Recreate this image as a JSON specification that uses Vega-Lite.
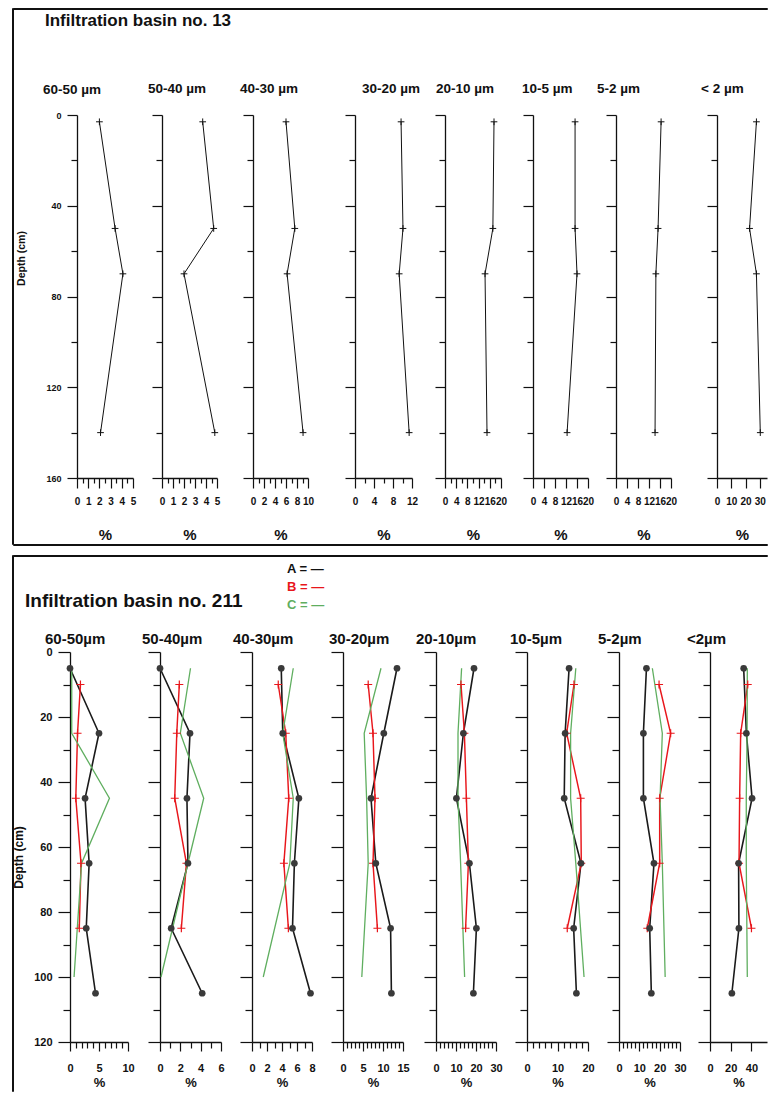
{
  "$schema": "https://vega.github.io/schema/vega-lite/v6.json",
  "padding": {"left": 11, "top": 7, "right": 0, "bottom": 0},
  "datasets": {
    "top": [
      {"frac": "60-50", "depth": 3, "value": 2.0}, {"frac": "60-50", "depth": 50, "value": 3.4}, {"frac": "60-50", "depth": 70, "value": 4.1}, {"frac": "60-50", "depth": 140, "value": 2.1},
      {"frac": "50-40", "depth": 3, "value": 3.7}, {"frac": "50-40", "depth": 50, "value": 4.7}, {"frac": "50-40", "depth": 70, "value": 2.0}, {"frac": "50-40", "depth": 140, "value": 4.8},
      {"frac": "40-30", "depth": 3, "value": 6.0}, {"frac": "40-30", "depth": 50, "value": 7.6}, {"frac": "40-30", "depth": 70, "value": 6.2}, {"frac": "40-30", "depth": 140, "value": 9.1},
      {"frac": "30-20", "depth": 3, "value": 9.7}, {"frac": "30-20", "depth": 50, "value": 10.1}, {"frac": "30-20", "depth": 70, "value": 9.3}, {"frac": "30-20", "depth": 140, "value": 11.4},
      {"frac": "20-10", "depth": 3, "value": 17.5}, {"frac": "20-10", "depth": 50, "value": 17.1}, {"frac": "20-10", "depth": 70, "value": 14.3}, {"frac": "20-10", "depth": 140, "value": 15.0},
      {"frac": "10-5", "depth": 3, "value": 15.3}, {"frac": "10-5", "depth": 50, "value": 15.3}, {"frac": "10-5", "depth": 70, "value": 16.0}, {"frac": "10-5", "depth": 140, "value": 12.4},
      {"frac": "5-2", "depth": 3, "value": 16.4}, {"frac": "5-2", "depth": 50, "value": 15.3}, {"frac": "5-2", "depth": 70, "value": 14.5}, {"frac": "5-2", "depth": 140, "value": 14.2},
      {"frac": "<2", "depth": 3, "value": 27.6}, {"frac": "<2", "depth": 50, "value": 22.8}, {"frac": "<2", "depth": 70, "value": 27.6}, {"frac": "<2", "depth": 140, "value": 30.3}
    ],
    "bottom": [
      {"frac": "60-50", "series": "A", "depth": 5, "value": 0}, {"frac": "60-50", "series": "A", "depth": 25, "value": 5.0}, {"frac": "60-50", "series": "A", "depth": 45, "value": 2.6}, {"frac": "60-50", "series": "A", "depth": 65, "value": 3.3}, {"frac": "60-50", "series": "A", "depth": 85, "value": 2.8}, {"frac": "60-50", "series": "A", "depth": 105, "value": 4.4},
      {"frac": "60-50", "series": "B", "depth": 10, "value": 1.8}, {"frac": "60-50", "series": "B", "depth": 25, "value": 1.3}, {"frac": "60-50", "series": "B", "depth": 45, "value": 1.0}, {"frac": "60-50", "series": "B", "depth": 65, "value": 1.9}, {"frac": "60-50", "series": "B", "depth": 85, "value": 1.6},
      {"frac": "60-50", "series": "C", "depth": 5, "value": 0.3}, {"frac": "60-50", "series": "C", "depth": 25, "value": 0.3}, {"frac": "60-50", "series": "C", "depth": 45, "value": 6.8}, {"frac": "60-50", "series": "C", "depth": 65, "value": 2.0}, {"frac": "60-50", "series": "C", "depth": 100, "value": 0.7},
      {"frac": "50-40", "series": "A", "depth": 5, "value": 0}, {"frac": "50-40", "series": "A", "depth": 25, "value": 2.95}, {"frac": "50-40", "series": "A", "depth": 45, "value": 2.65}, {"frac": "50-40", "series": "A", "depth": 65, "value": 2.75}, {"frac": "50-40", "series": "A", "depth": 85, "value": 1.1}, {"frac": "50-40", "series": "A", "depth": 105, "value": 4.15},
      {"frac": "50-40", "series": "B", "depth": 10, "value": 1.9}, {"frac": "50-40", "series": "B", "depth": 25, "value": 1.65}, {"frac": "50-40", "series": "B", "depth": 45, "value": 1.45}, {"frac": "50-40", "series": "B", "depth": 65, "value": 2.6}, {"frac": "50-40", "series": "B", "depth": 85, "value": 2.1},
      {"frac": "50-40", "series": "C", "depth": 5, "value": 3.0}, {"frac": "50-40", "series": "C", "depth": 25, "value": 2.0}, {"frac": "50-40", "series": "C", "depth": 45, "value": 4.3}, {"frac": "50-40", "series": "C", "depth": 65, "value": 2.75}, {"frac": "50-40", "series": "C", "depth": 100, "value": 0.1},
      {"frac": "40-30", "series": "A", "depth": 5, "value": 3.9}, {"frac": "40-30", "series": "A", "depth": 25, "value": 4.1}, {"frac": "40-30", "series": "A", "depth": 45, "value": 6.25}, {"frac": "40-30", "series": "A", "depth": 65, "value": 5.65}, {"frac": "40-30", "series": "A", "depth": 85, "value": 5.4}, {"frac": "40-30", "series": "A", "depth": 105, "value": 7.8},
      {"frac": "40-30", "series": "B", "depth": 10, "value": 3.5}, {"frac": "40-30", "series": "B", "depth": 25, "value": 4.5}, {"frac": "40-30", "series": "B", "depth": 45, "value": 4.9}, {"frac": "40-30", "series": "B", "depth": 65, "value": 4.25}, {"frac": "40-30", "series": "B", "depth": 85, "value": 4.85},
      {"frac": "40-30", "series": "C", "depth": 5, "value": 5.5}, {"frac": "40-30", "series": "C", "depth": 25, "value": 4.1}, {"frac": "40-30", "series": "C", "depth": 45, "value": 5.5}, {"frac": "40-30", "series": "C", "depth": 65, "value": 5.05}, {"frac": "40-30", "series": "C", "depth": 100, "value": 1.5},
      {"frac": "30-20", "series": "A", "depth": 5, "value": 13.5}, {"frac": "30-20", "series": "A", "depth": 25, "value": 10.2}, {"frac": "30-20", "series": "A", "depth": 45, "value": 7.0}, {"frac": "30-20", "series": "A", "depth": 65, "value": 8.2}, {"frac": "30-20", "series": "A", "depth": 85, "value": 11.9}, {"frac": "30-20", "series": "A", "depth": 105, "value": 12.1},
      {"frac": "30-20", "series": "B", "depth": 10, "value": 6.3}, {"frac": "30-20", "series": "B", "depth": 25, "value": 7.5}, {"frac": "30-20", "series": "B", "depth": 45, "value": 8.0}, {"frac": "30-20", "series": "B", "depth": 65, "value": 7.5}, {"frac": "30-20", "series": "B", "depth": 85, "value": 8.6},
      {"frac": "30-20", "series": "C", "depth": 5, "value": 9.5}, {"frac": "30-20", "series": "C", "depth": 25, "value": 5.3}, {"frac": "30-20", "series": "C", "depth": 45, "value": 5.9}, {"frac": "30-20", "series": "C", "depth": 65, "value": 6.3}, {"frac": "30-20", "series": "C", "depth": 100, "value": 4.7},
      {"frac": "20-10", "series": "A", "depth": 5, "value": 19.0}, {"frac": "20-10", "series": "A", "depth": 25, "value": 13.7}, {"frac": "20-10", "series": "A", "depth": 45, "value": 10.2}, {"frac": "20-10", "series": "A", "depth": 65, "value": 16.7}, {"frac": "20-10", "series": "A", "depth": 85, "value": 20.2}, {"frac": "20-10", "series": "A", "depth": 105, "value": 18.7},
      {"frac": "20-10", "series": "B", "depth": 10, "value": 12.5}, {"frac": "20-10", "series": "B", "depth": 25, "value": 14.2}, {"frac": "20-10", "series": "B", "depth": 45, "value": 15.2}, {"frac": "20-10", "series": "B", "depth": 65, "value": 16.2}, {"frac": "20-10", "series": "B", "depth": 85, "value": 14.8},
      {"frac": "20-10", "series": "C", "depth": 5, "value": 12.8}, {"frac": "20-10", "series": "C", "depth": 25, "value": 11.0}, {"frac": "20-10", "series": "C", "depth": 45, "value": 11.0}, {"frac": "20-10", "series": "C", "depth": 65, "value": 12.3}, {"frac": "20-10", "series": "C", "depth": 100, "value": 14.3},
      {"frac": "10-5", "series": "A", "depth": 5, "value": 13.8}, {"frac": "10-5", "series": "A", "depth": 25, "value": 12.5}, {"frac": "10-5", "series": "A", "depth": 45, "value": 12.2}, {"frac": "10-5", "series": "A", "depth": 65, "value": 17.7}, {"frac": "10-5", "series": "A", "depth": 85, "value": 15.3}, {"frac": "10-5", "series": "A", "depth": 105, "value": 16.2},
      {"frac": "10-5", "series": "B", "depth": 10, "value": 15.4}, {"frac": "10-5", "series": "B", "depth": 25, "value": 13.0}, {"frac": "10-5", "series": "B", "depth": 45, "value": 17.6}, {"frac": "10-5", "series": "B", "depth": 65, "value": 17.8}, {"frac": "10-5", "series": "B", "depth": 85, "value": 13.2},
      {"frac": "10-5", "series": "C", "depth": 5, "value": 16.0}, {"frac": "10-5", "series": "C", "depth": 25, "value": 14.3}, {"frac": "10-5", "series": "C", "depth": 45, "value": 14.3}, {"frac": "10-5", "series": "C", "depth": 65, "value": 16.0}, {"frac": "10-5", "series": "C", "depth": 100, "value": 18.7},
      {"frac": "5-2", "series": "A", "depth": 5, "value": 13.5}, {"frac": "5-2", "series": "A", "depth": 25, "value": 12.0}, {"frac": "5-2", "series": "A", "depth": 45, "value": 12.0}, {"frac": "5-2", "series": "A", "depth": 65, "value": 17.2}, {"frac": "5-2", "series": "A", "depth": 85, "value": 15.1}, {"frac": "5-2", "series": "A", "depth": 105, "value": 15.9},
      {"frac": "5-2", "series": "B", "depth": 10, "value": 19.7}, {"frac": "5-2", "series": "B", "depth": 25, "value": 25.4}, {"frac": "5-2", "series": "B", "depth": 45, "value": 20.0}, {"frac": "5-2", "series": "B", "depth": 65, "value": 20.0}, {"frac": "5-2", "series": "B", "depth": 85, "value": 13.9},
      {"frac": "5-2", "series": "C", "depth": 5, "value": 16.4}, {"frac": "5-2", "series": "C", "depth": 25, "value": 21.3}, {"frac": "5-2", "series": "C", "depth": 45, "value": 20.2}, {"frac": "5-2", "series": "C", "depth": 65, "value": 21.3}, {"frac": "5-2", "series": "C", "depth": 100, "value": 22.7},
      {"frac": "<2", "series": "A", "depth": 5, "value": 32.5}, {"frac": "<2", "series": "A", "depth": 25, "value": 35.1}, {"frac": "<2", "series": "A", "depth": 45, "value": 40.6}, {"frac": "<2", "series": "A", "depth": 65, "value": 27.6}, {"frac": "<2", "series": "A", "depth": 85, "value": 27.9}, {"frac": "<2", "series": "A", "depth": 105, "value": 21.1},
      {"frac": "<2", "series": "B", "depth": 10, "value": 36.4}, {"frac": "<2", "series": "B", "depth": 25, "value": 29.6}, {"frac": "<2", "series": "B", "depth": 45, "value": 28.6}, {"frac": "<2", "series": "B", "depth": 65, "value": 28.0}, {"frac": "<2", "series": "B", "depth": 85, "value": 40.0},
      {"frac": "<2", "series": "C", "depth": 5, "value": 36.0}, {"frac": "<2", "series": "C", "depth": 25, "value": 35.8}, {"frac": "<2", "series": "C", "depth": 45, "value": 35.0}, {"frac": "<2", "series": "C", "depth": 65, "value": 35.0}, {"frac": "<2", "series": "C", "depth": 100, "value": 36.0}
    ]
  },
  "vconcat": [
    {
      "spacing": 0,
      "bounds": "flush",
      "hconcat": [
        {"width": 1, "height": 536, "data": {"values": []}, "mark": {"type": "rule"}, "encoding": {}, "view": {"stroke": "#111", "strokeWidth": 1}},
        {
          "spacing": 1,
          "vconcat": [
            {"width": 754, "height": 1, "data": {"values": []}, "mark": {"type": "rule"}, "encoding": {}, "view": {"stroke": "#111", "strokeWidth": 1}},
            {
              "title": {"text": "Infiltration basin no. 13", "anchor": "start", "frame": "group", "dx": 32, "fontSize": 17, "offset": 52},
              "spacing": 0,
              "bounds": "flush",
              "hconcat": [
                {"width": 64, "height": 363, "data": {"values": []}, "mark": {"type": "rule"}, "encoding": {}},
                {
                  "width": 85, "height": 363, "data": {"name": "top"},
                  "transform": [{"filter": "datum.frac === '60-50'"}],
                  "title": {"text": "60-50 µm", "anchor": "start", "frame": "group", "dx": -34, "offset": 15, "fontSize": 13.5},
                  "encoding": {
                    "x": {"field": "value", "type": "quantitative", "scale": {"domain": [0, 5], "range": [0, 56], "nice": false, "zero": false},
                      "axis": {"values": [0, 0.5, 1, 1.5, 2, 2.5, 3, 3.5, 4, 4.5, 5], "labelExpr": "datum.value % 1 === 0 ? '' + datum.value : ''", "tickSize": {"condition": {"test": "datum.value % 1 === 0", "value": 10}, "value": 5}, "labelPadding": 8, "labelFontSize": 10, "title": "%", "titleFontSize": 15, "titlePadding": 21}},
                    "y": {"field": "depth", "type": "quantitative", "scale": {"domain": [0, 160], "reverse": true, "nice": false},
                      "axis": {"values": [0, 20, 40, 60, 80, 100, 120, 140, 160], "labelExpr": "datum.value % 40 === 0 ? datum.label : ''", "tickSize": {"condition": {"test": "datum.value % 40 === 0", "value": 10}, "value": 6}, "labelFontSize": 9, "labelPadding": 6, "title": "Depth (cm)", "titleFontSize": 10.5, "titlePadding": 19, "titleY": 143}}
                  },
                  "layer": [
                    {"mark": {"type": "line", "color": "#111", "strokeWidth": 1}, "encoding": {"order": {"field": "depth", "type": "quantitative"}}},
                    {"mark": {"type": "point", "shape": "M-1,0H1M0,-1V1", "filled": false, "color": "#111", "strokeWidth": 1, "size": 45, "opacity": 1}}
                  ]
                },
                {
                  "width": 91, "height": 363, "data": {"name": "top"},
                  "transform": [{"filter": "datum.frac === '50-40'"}],
                  "title": {"text": "50-40 µm", "anchor": "start", "frame": "group", "dx": -14, "offset": 19, "fontSize": 13.5},
                  "encoding": {
                    "x": {"field": "value", "type": "quantitative", "scale": {"domain": [0, 5], "range": [0, 55], "nice": false, "zero": false},
                      "axis": {"values": [0, 0.5, 1, 1.5, 2, 2.5, 3, 3.5, 4, 4.5, 5], "labelExpr": "datum.value % 1 === 0 ? '' + datum.value : ''", "tickSize": {"condition": {"test": "datum.value % 1 === 0", "value": 10}, "value": 5}, "labelPadding": 8, "labelFontSize": 10, "title": "%", "titleFontSize": 15, "titlePadding": 21}},
                    "y": {"field": "depth", "type": "quantitative", "scale": {"domain": [0, 160], "reverse": true, "nice": false},
                      "axis": {"values": [0, 20, 40, 60, 80, 100, 120, 140, 160], "labels": false, "tickSize": {"condition": {"test": "datum.value % 40 === 0", "value": 10}, "value": 6}, "title": null}}
                  },
                  "layer": [
                    {"mark": {"type": "line", "color": "#111", "strokeWidth": 1}, "encoding": {"order": {"field": "depth", "type": "quantitative"}}},
                    {"mark": {"type": "point", "shape": "M-1,0H1M0,-1V1", "filled": false, "color": "#111", "strokeWidth": 1, "size": 45, "opacity": 1}}
                  ]
                },
                {
                  "width": 102, "height": 363, "data": {"name": "top"},
                  "transform": [{"filter": "datum.frac === '40-30'"}],
                  "title": {"text": "40-30 µm", "anchor": "start", "frame": "group", "dx": -13, "offset": 19, "fontSize": 13.5},
                  "encoding": {
                    "x": {"field": "value", "type": "quantitative", "scale": {"domain": [0, 10], "range": [0, 55], "nice": false, "zero": false},
                      "axis": {"values": [0, 1, 2, 3, 4, 5, 6, 7, 8, 9, 10], "labelExpr": "datum.value % 2 === 0 ? datum.label : ''", "tickSize": {"condition": {"test": "datum.value % 2 === 0", "value": 10}, "value": 5}, "labelPadding": 8, "labelFontSize": 10, "title": "%", "titleFontSize": 15, "titlePadding": 21}},
                    "y": {"field": "depth", "type": "quantitative", "scale": {"domain": [0, 160], "reverse": true, "nice": false},
                      "axis": {"values": [0, 20, 40, 60, 80, 100, 120, 140, 160], "labels": false, "tickSize": {"condition": {"test": "datum.value % 40 === 0", "value": 10}, "value": 6}, "title": null}}
                  },
                  "layer": [
                    {"mark": {"type": "line", "color": "#111", "strokeWidth": 1}, "encoding": {"order": {"field": "depth", "type": "quantitative"}}},
                    {"mark": {"type": "point", "shape": "M-1,0H1M0,-1V1", "filled": false, "color": "#111", "strokeWidth": 1, "size": 45, "opacity": 1}}
                  ]
                },
                {
                  "width": 90, "height": 363, "data": {"name": "top"},
                  "transform": [{"filter": "datum.frac === '30-20'"}],
                  "title": {"text": "30-20 µm", "anchor": "start", "frame": "group", "dx": 7, "offset": 19, "fontSize": 13.5},
                  "encoding": {
                    "x": {"field": "value", "type": "quantitative", "scale": {"domain": [0, 12], "range": [0, 57], "nice": false, "zero": false},
                      "axis": {"values": [0, 2, 4, 6, 8, 10, 12], "labelExpr": "datum.value % 4 === 0 ? datum.label : ''", "tickSize": {"condition": {"test": "datum.value % 4 === 0", "value": 10}, "value": 5}, "labelPadding": 8, "labelFontSize": 10, "title": "%", "titleFontSize": 15, "titlePadding": 21}},
                    "y": {"field": "depth", "type": "quantitative", "scale": {"domain": [0, 160], "reverse": true, "nice": false},
                      "axis": {"values": [0, 20, 40, 60, 80, 100, 120, 140, 160], "labels": false, "tickSize": {"condition": {"test": "datum.value % 40 === 0", "value": 10}, "value": 6}, "title": null}}
                  },
                  "layer": [
                    {"mark": {"type": "line", "color": "#111", "strokeWidth": 1}, "encoding": {"order": {"field": "depth", "type": "quantitative"}}},
                    {"mark": {"type": "point", "shape": "M-1,0H1M0,-1V1", "filled": false, "color": "#111", "strokeWidth": 1, "size": 45, "opacity": 1}}
                  ]
                },
                {
                  "width": 88, "height": 363, "data": {"name": "top"},
                  "transform": [{"filter": "datum.frac === '20-10'"}],
                  "title": {"text": "20-10 µm", "anchor": "start", "frame": "group", "dx": -9, "offset": 19, "fontSize": 13.5},
                  "encoding": {
                    "x": {"field": "value", "type": "quantitative", "scale": {"domain": [0, 20], "range": [0, 56], "nice": false, "zero": false},
                      "axis": {"values": [0, 2, 4, 6, 8, 10, 12, 14, 16, 18, 20], "labelExpr": "datum.value % 4 === 0 ? datum.label : ''", "tickSize": {"condition": {"test": "datum.value % 4 === 0", "value": 10}, "value": 5}, "labelPadding": 8, "labelFontSize": 10, "title": "%", "titleFontSize": 15, "titlePadding": 21}},
                    "y": {"field": "depth", "type": "quantitative", "scale": {"domain": [0, 160], "reverse": true, "nice": false},
                      "axis": {"values": [0, 20, 40, 60, 80, 100, 120, 140, 160], "labels": false, "tickSize": {"condition": {"test": "datum.value % 40 === 0", "value": 10}, "value": 6}, "title": null}}
                  },
                  "layer": [
                    {"mark": {"type": "line", "color": "#111", "strokeWidth": 1}, "encoding": {"order": {"field": "depth", "type": "quantitative"}}},
                    {"mark": {"type": "point", "shape": "M-1,0H1M0,-1V1", "filled": false, "color": "#111", "strokeWidth": 1, "size": 45, "opacity": 1}}
                  ]
                },
                {
                  "width": 83, "height": 363, "data": {"name": "top"},
                  "transform": [{"filter": "datum.frac === '10-5'"}],
                  "title": {"text": "10-5 µm", "anchor": "start", "frame": "group", "dx": -11, "offset": 19, "fontSize": 13.5},
                  "encoding": {
                    "x": {"field": "value", "type": "quantitative", "scale": {"domain": [0, 20], "range": [0, 55], "nice": false, "zero": false},
                      "axis": {"values": [0, 4, 8, 12, 16, 20], "tickSize": 10, "labelPadding": 8, "labelFontSize": 10, "title": "%", "titleFontSize": 15, "titlePadding": 21}},
                    "y": {"field": "depth", "type": "quantitative", "scale": {"domain": [0, 160], "reverse": true, "nice": false},
                      "axis": {"values": [0, 20, 40, 60, 80, 100, 120, 140, 160], "labels": false, "tickSize": {"condition": {"test": "datum.value % 40 === 0", "value": 10}, "value": 6}, "title": null}}
                  },
                  "layer": [
                    {"mark": {"type": "line", "color": "#111", "strokeWidth": 1}, "encoding": {"order": {"field": "depth", "type": "quantitative"}}},
                    {"mark": {"type": "point", "shape": "M-1,0H1M0,-1V1", "filled": false, "color": "#111", "strokeWidth": 1, "size": 45, "opacity": 1}}
                  ]
                },
                {
                  "width": 101, "height": 363, "data": {"name": "top"},
                  "transform": [{"filter": "datum.frac === '5-2'"}],
                  "title": {"text": "5-2 µm", "anchor": "start", "frame": "group", "dx": -19, "offset": 19, "fontSize": 13.5},
                  "encoding": {
                    "x": {"field": "value", "type": "quantitative", "scale": {"domain": [0, 20], "range": [0, 55], "nice": false, "zero": false},
                      "axis": {"values": [0, 4, 8, 12, 16, 20], "tickSize": 10, "labelPadding": 8, "labelFontSize": 10, "title": "%", "titleFontSize": 15, "titlePadding": 21}},
                    "y": {"field": "depth", "type": "quantitative", "scale": {"domain": [0, 160], "reverse": true, "nice": false},
                      "axis": {"values": [0, 20, 40, 60, 80, 100, 120, 140, 160], "labels": false, "tickSize": {"condition": {"test": "datum.value % 40 === 0", "value": 10}, "value": 6}, "title": null}}
                  },
                  "layer": [
                    {"mark": {"type": "line", "color": "#111", "strokeWidth": 1}, "encoding": {"order": {"field": "depth", "type": "quantitative"}}},
                    {"mark": {"type": "point", "shape": "M-1,0H1M0,-1V1", "filled": false, "color": "#111", "strokeWidth": 1, "size": 45, "opacity": 1}}
                  ]
                },
                {
                  "width": 50, "height": 363, "data": {"name": "top"},
                  "transform": [{"filter": "datum.frac === '<2'"}],
                  "title": {"text": "< 2 µm", "anchor": "start", "frame": "group", "dx": -16, "offset": 19, "fontSize": 13.5},
                  "encoding": {
                    "x": {"field": "value", "type": "quantitative", "scale": {"domain": [0, 35], "range": [0, 50], "nice": false, "zero": false},
                      "axis": {"values": [0, 10, 20, 30], "tickSize": 10, "labelPadding": 8, "labelFontSize": 10, "title": "%", "titleFontSize": 15, "titlePadding": 21}},
                    "y": {"field": "depth", "type": "quantitative", "scale": {"domain": [0, 160], "reverse": true, "nice": false},
                      "axis": {"values": [0, 20, 40, 60, 80, 100, 120, 140, 160], "labels": false, "tickSize": {"condition": {"test": "datum.value % 40 === 0", "value": 10}, "value": 6}, "title": null}}
                  },
                  "layer": [
                    {"mark": {"type": "line", "color": "#111", "strokeWidth": 1}, "encoding": {"order": {"field": "depth", "type": "quantitative"}}},
                    {"mark": {"type": "point", "shape": "M-1,0H1M0,-1V1", "filled": false, "color": "#111", "strokeWidth": 1, "size": 45, "opacity": 1}}
                  ]
                }
              ]
            },
            {"width": 754, "height": 1, "data": {"values": []}, "mark": {"type": "rule"}, "encoding": {}, "view": {"stroke": "#111", "strokeWidth": 1}}
          ]
        }
      ]
    },
    {
      "spacing": 0,
      "bounds": "flush",
      "hconcat": [
        {"width": 1, "height": 536, "data": {"values": []}, "mark": {"type": "rule"}, "encoding": {}, "view": {"stroke": "#111", "strokeWidth": 1}},
        {
          "spacing": 35,
          "vconcat": [
            {"width": 754, "height": 1, "data": {"values": []}, "mark": {"type": "rule"}, "encoding": {}, "view": {"stroke": "#111", "strokeWidth": 1}},
            {
              "title": {"text": "Infiltration basin no. 211", "anchor": "start", "frame": "group", "dx": 12, "fontSize": 19, "offset": 21},
              "spacing": 0,
              "bounds": "flush",
              "hconcat": [
                {"width": 57, "height": 390, "data": {"values": []}, "mark": {"type": "rule"}, "encoding": {}},
                {
                  "width": 90, "height": 390, "data": {"name": "bottom"},
                  "transform": [{"filter": "datum.frac === '60-50'"}],
                  "title": {"text": "60-50µm", "anchor": "start", "frame": "group", "dx": -25, "offset": -1, "fontSize": 15},
                  "encoding": {
                    "x": {"field": "value", "type": "quantitative", "scale": {"domain": [0, 10], "range": [0, 58], "nice": false, "zero": false},
                      "axis": {"values": [0, 1, 2, 3, 4, 5, 6, 7, 8, 9, 10], "labelExpr": "datum.value % 5 === 0 ? datum.label : ''", "tickSize": {"condition": {"test": "datum.value % 5 === 0", "value": 9}, "value": 6}, "labelPadding": 11, "labelFontSize": 11, "title": "%", "titleFontSize": 13, "titlePadding": 3}},
                    "y": {"field": "depth", "type": "quantitative", "scale": {"domain": [0, 120], "reverse": true, "nice": false},
                      "axis": {"values": [0, 10, 20, 30, 40, 50, 60, 70, 80, 90, 100, 110, 120], "labelExpr": "datum.value % 20 === 0 ? datum.label : ''", "tickSize": {"condition": {"test": "datum.value % 20 === 0", "value": 12}, "value": 7}, "labelFontSize": 11, "labelPadding": 6, "title": "Depth (cm)", "titleFontSize": 12, "titlePadding": 8, "titleY": 205}}
                  },
                  "layer": [
                    {"mark": {"type": "line"}, "encoding": {"order": {"field": "depth", "type": "quantitative"},
                      "color": {"field": "series", "type": "nominal", "scale": {"domain": ["A", "B", "C"], "range": ["#1a1a1a", "#e8161b", "#5fae5f"]},
                        "legend": {"orient": "none", "legendX": 262, "legendY": 554, "title": null, "labelExpr": "datum.label + ' = —'", "symbolOpacity": 0, "symbolSize": 1, "symbolStrokeWidth": 0, "labelFont": "Liberation Sans", "labelFontSize": 13, "labelFontWeight": "bold", "labelOffset": 0, "rowPadding": 4,
                          "labelColor": {"expr": "datum.value === 'B' ? '#e8161b' : (datum.value === 'C' ? '#5fae5f' : '#111')"}}},
                      "strokeWidth": {"field": "series", "type": "nominal", "scale": {"domain": ["A", "B", "C"], "range": [1.6, 1.3, 1.1]}, "legend": null}}},
                    {"transform": [{"filter": "datum.series === 'B'"}], "mark": {"type": "point", "shape": "M-1,0H1M0,-1V1", "filled": false, "color": "#e8161b", "strokeWidth": 1.2, "size": 64, "opacity": 1}},
                    {"transform": [{"filter": "datum.series === 'A'"}], "mark": {"type": "point", "shape": "circle", "filled": true, "color": "#3a3a3a", "size": 45, "opacity": 1}}
                  ]
                },
                {
                  "width": 92, "height": 390, "data": {"name": "bottom"},
                  "transform": [{"filter": "datum.frac === '50-40'"}],
                  "title": {"text": "50-40µm", "anchor": "start", "frame": "group", "dx": -18, "offset": 4, "fontSize": 15},
                  "encoding": {
                    "x": {"field": "value", "type": "quantitative", "scale": {"domain": [0, 6], "range": [0, 61], "nice": false, "zero": false},
                      "axis": {"values": [0, 1, 2, 3, 4, 5, 6], "labelExpr": "datum.value % 2 === 0 ? datum.label : ''", "tickSize": {"condition": {"test": "datum.value % 2 === 0", "value": 9}, "value": 6}, "labelPadding": 11, "labelFontSize": 11, "title": "%", "titleFontSize": 13, "titlePadding": 3}},
                    "y": {"field": "depth", "type": "quantitative", "scale": {"domain": [0, 120], "reverse": true, "nice": false},
                      "axis": {"values": [0, 10, 20, 30, 40, 50, 60, 70, 80, 90, 100, 110, 120], "labels": false, "tickSize": {"condition": {"test": "datum.value % 20 === 0", "value": 12}, "value": 7}, "title": null}}
                  },
                  "layer": [
                    {"mark": {"type": "line"}, "encoding": {"order": {"field": "depth", "type": "quantitative"},
                      "color": {"field": "series", "type": "nominal", "scale": {"domain": ["A", "B", "C"], "range": ["#1a1a1a", "#e8161b", "#5fae5f"]}},
                      "strokeWidth": {"field": "series", "type": "nominal", "scale": {"domain": ["A", "B", "C"], "range": [1.6, 1.3, 1.1]}, "legend": null}}},
                    {"transform": [{"filter": "datum.series === 'B'"}], "mark": {"type": "point", "shape": "M-1,0H1M0,-1V1", "filled": false, "color": "#e8161b", "strokeWidth": 1.2, "size": 64, "opacity": 1}},
                    {"transform": [{"filter": "datum.series === 'A'"}], "mark": {"type": "point", "shape": "circle", "filled": true, "color": "#3a3a3a", "size": 45, "opacity": 1}}
                  ]
                },
                {
                  "width": 91, "height": 390, "data": {"name": "bottom"},
                  "transform": [{"filter": "datum.frac === '40-30'"}],
                  "title": {"text": "40-30µm", "anchor": "start", "frame": "group", "dx": -19, "offset": 4, "fontSize": 15},
                  "encoding": {
                    "x": {"field": "value", "type": "quantitative", "scale": {"domain": [0, 8], "range": [0, 60], "nice": false, "zero": false},
                      "axis": {"values": [0, 1, 2, 3, 4, 5, 6, 7, 8], "labelExpr": "datum.value % 2 === 0 ? datum.label : ''", "tickSize": {"condition": {"test": "datum.value % 2 === 0", "value": 9}, "value": 6}, "labelPadding": 11, "labelFontSize": 11, "title": "%", "titleFontSize": 13, "titlePadding": 3}},
                    "y": {"field": "depth", "type": "quantitative", "scale": {"domain": [0, 120], "reverse": true, "nice": false},
                      "axis": {"values": [0, 10, 20, 30, 40, 50, 60, 70, 80, 90, 100, 110, 120], "labels": false, "tickSize": {"condition": {"test": "datum.value % 20 === 0", "value": 12}, "value": 7}, "title": null}}
                  },
                  "layer": [
                    {"mark": {"type": "line"}, "encoding": {"order": {"field": "depth", "type": "quantitative"},
                      "color": {"field": "series", "type": "nominal", "scale": {"domain": ["A", "B", "C"], "range": ["#1a1a1a", "#e8161b", "#5fae5f"]}},
                      "strokeWidth": {"field": "series", "type": "nominal", "scale": {"domain": ["A", "B", "C"], "range": [1.6, 1.3, 1.1]}, "legend": null}}},
                    {"transform": [{"filter": "datum.series === 'B'"}], "mark": {"type": "point", "shape": "M-1,0H1M0,-1V1", "filled": false, "color": "#e8161b", "strokeWidth": 1.2, "size": 64, "opacity": 1}},
                    {"transform": [{"filter": "datum.series === 'A'"}], "mark": {"type": "point", "shape": "circle", "filled": true, "color": "#3a3a3a", "size": 45, "opacity": 1}}
                  ]
                },
                {
                  "width": 93, "height": 390, "data": {"name": "bottom"},
                  "transform": [{"filter": "datum.frac === '30-20'"}],
                  "title": {"text": "30-20µm", "anchor": "start", "frame": "group", "dx": -14, "offset": 4, "fontSize": 15},
                  "encoding": {
                    "x": {"field": "value", "type": "quantitative", "scale": {"domain": [0, 15], "range": [0, 60], "nice": false, "zero": false},
                      "axis": {"values": [0, 1, 2, 3, 4, 5, 6, 7, 8, 9, 10, 11, 12, 13, 14, 15], "labelExpr": "datum.value % 5 === 0 ? datum.label : ''", "tickSize": {"condition": {"test": "datum.value % 5 === 0", "value": 9}, "value": 6}, "labelPadding": 11, "labelFontSize": 11, "title": "%", "titleFontSize": 13, "titlePadding": 3}},
                    "y": {"field": "depth", "type": "quantitative", "scale": {"domain": [0, 120], "reverse": true, "nice": false},
                      "axis": {"values": [0, 10, 20, 30, 40, 50, 60, 70, 80, 90, 100, 110, 120], "labels": false, "tickSize": {"condition": {"test": "datum.value % 20 === 0", "value": 12}, "value": 7}, "title": null}}
                  },
                  "layer": [
                    {"mark": {"type": "line"}, "encoding": {"order": {"field": "depth", "type": "quantitative"},
                      "color": {"field": "series", "type": "nominal", "scale": {"domain": ["A", "B", "C"], "range": ["#1a1a1a", "#e8161b", "#5fae5f"]}},
                      "strokeWidth": {"field": "series", "type": "nominal", "scale": {"domain": ["A", "B", "C"], "range": [1.6, 1.3, 1.1]}, "legend": null}}},
                    {"transform": [{"filter": "datum.series === 'B'"}], "mark": {"type": "point", "shape": "M-1,0H1M0,-1V1", "filled": false, "color": "#e8161b", "strokeWidth": 1.2, "size": 64, "opacity": 1}},
                    {"transform": [{"filter": "datum.series === 'A'"}], "mark": {"type": "point", "shape": "circle", "filled": true, "color": "#3a3a3a", "size": 45, "opacity": 1}}
                  ]
                },
                {
                  "width": 91, "height": 390, "data": {"name": "bottom"},
                  "transform": [{"filter": "datum.frac === '20-10'"}],
                  "title": {"text": "20-10µm", "anchor": "start", "frame": "group", "dx": -20, "offset": 4, "fontSize": 15},
                  "encoding": {
                    "x": {"field": "value", "type": "quantitative", "scale": {"domain": [0, 30], "range": [0, 60], "nice": false, "zero": false},
                      "axis": {"values": [0, 2, 4, 6, 8, 10, 12, 14, 16, 18, 20, 22, 24, 26, 28, 30], "labelExpr": "datum.value % 10 === 0 ? datum.label : ''", "tickSize": {"condition": {"test": "datum.value % 10 === 0", "value": 9}, "value": 6}, "labelPadding": 11, "labelFontSize": 11, "title": "%", "titleFontSize": 13, "titlePadding": 3}},
                    "y": {"field": "depth", "type": "quantitative", "scale": {"domain": [0, 120], "reverse": true, "nice": false},
                      "axis": {"values": [0, 10, 20, 30, 40, 50, 60, 70, 80, 90, 100, 110, 120], "labels": false, "tickSize": {"condition": {"test": "datum.value % 20 === 0", "value": 12}, "value": 7}, "title": null}}
                  },
                  "layer": [
                    {"mark": {"type": "line"}, "encoding": {"order": {"field": "depth", "type": "quantitative"},
                      "color": {"field": "series", "type": "nominal", "scale": {"domain": ["A", "B", "C"], "range": ["#1a1a1a", "#e8161b", "#5fae5f"]}},
                      "strokeWidth": {"field": "series", "type": "nominal", "scale": {"domain": ["A", "B", "C"], "range": [1.6, 1.3, 1.1]}, "legend": null}}},
                    {"transform": [{"filter": "datum.series === 'B'"}], "mark": {"type": "point", "shape": "M-1,0H1M0,-1V1", "filled": false, "color": "#e8161b", "strokeWidth": 1.2, "size": 64, "opacity": 1}},
                    {"transform": [{"filter": "datum.series === 'A'"}], "mark": {"type": "point", "shape": "circle", "filled": true, "color": "#3a3a3a", "size": 45, "opacity": 1}}
                  ]
                },
                {
                  "width": 92, "height": 390, "data": {"name": "bottom"},
                  "transform": [{"filter": "datum.frac === '10-5'"}],
                  "title": {"text": "10-5µm", "anchor": "start", "frame": "group", "dx": -17, "offset": 4, "fontSize": 15},
                  "encoding": {
                    "x": {"field": "value", "type": "quantitative", "scale": {"domain": [0, 20], "range": [0, 61], "nice": false, "zero": false},
                      "axis": {"values": [0, 2, 4, 6, 8, 10, 12, 14, 16, 18, 20], "labelExpr": "datum.value % 10 === 0 ? datum.label : ''", "tickSize": {"condition": {"test": "datum.value % 10 === 0", "value": 9}, "value": 6}, "labelPadding": 11, "labelFontSize": 11, "title": "%", "titleFontSize": 13, "titlePadding": 3}},
                    "y": {"field": "depth", "type": "quantitative", "scale": {"domain": [0, 120], "reverse": true, "nice": false},
                      "axis": {"values": [0, 10, 20, 30, 40, 50, 60, 70, 80, 90, 100, 110, 120], "labels": false, "tickSize": {"condition": {"test": "datum.value % 20 === 0", "value": 12}, "value": 7}, "title": null}}
                  },
                  "layer": [
                    {"mark": {"type": "line"}, "encoding": {"order": {"field": "depth", "type": "quantitative"},
                      "color": {"field": "series", "type": "nominal", "scale": {"domain": ["A", "B", "C"], "range": ["#1a1a1a", "#e8161b", "#5fae5f"]}},
                      "strokeWidth": {"field": "series", "type": "nominal", "scale": {"domain": ["A", "B", "C"], "range": [1.6, 1.3, 1.1]}, "legend": null}}},
                    {"transform": [{"filter": "datum.series === 'B'"}], "mark": {"type": "point", "shape": "M-1,0H1M0,-1V1", "filled": false, "color": "#e8161b", "strokeWidth": 1.2, "size": 64, "opacity": 1}},
                    {"transform": [{"filter": "datum.series === 'A'"}], "mark": {"type": "point", "shape": "circle", "filled": true, "color": "#3a3a3a", "size": 45, "opacity": 1}}
                  ]
                },
                {
                  "width": 91, "height": 390, "data": {"name": "bottom"},
                  "transform": [{"filter": "datum.frac === '5-2'"}],
                  "title": {"text": "5-2µm", "anchor": "start", "frame": "group", "dx": -21, "offset": 4, "fontSize": 15},
                  "encoding": {
                    "x": {"field": "value", "type": "quantitative", "scale": {"domain": [0, 30], "range": [0, 61], "nice": false, "zero": false},
                      "axis": {"values": [0, 2, 4, 6, 8, 10, 12, 14, 16, 18, 20, 22, 24, 26, 28, 30], "labelExpr": "datum.value % 10 === 0 ? datum.label : ''", "tickSize": {"condition": {"test": "datum.value % 10 === 0", "value": 9}, "value": 6}, "labelPadding": 11, "labelFontSize": 11, "title": "%", "titleFontSize": 13, "titlePadding": 3}},
                    "y": {"field": "depth", "type": "quantitative", "scale": {"domain": [0, 120], "reverse": true, "nice": false},
                      "axis": {"values": [0, 10, 20, 30, 40, 50, 60, 70, 80, 90, 100, 110, 120], "labels": false, "tickSize": {"condition": {"test": "datum.value % 20 === 0", "value": 12}, "value": 7}, "title": null}}
                  },
                  "layer": [
                    {"mark": {"type": "line"}, "encoding": {"order": {"field": "depth", "type": "quantitative"},
                      "color": {"field": "series", "type": "nominal", "scale": {"domain": ["A", "B", "C"], "range": ["#1a1a1a", "#e8161b", "#5fae5f"]}},
                      "strokeWidth": {"field": "series", "type": "nominal", "scale": {"domain": ["A", "B", "C"], "range": [1.6, 1.3, 1.1]}, "legend": null}}},
                    {"transform": [{"filter": "datum.series === 'B'"}], "mark": {"type": "point", "shape": "M-1,0H1M0,-1V1", "filled": false, "color": "#e8161b", "strokeWidth": 1.2, "size": 64, "opacity": 1}},
                    {"transform": [{"filter": "datum.series === 'A'"}], "mark": {"type": "point", "shape": "circle", "filled": true, "color": "#3a3a3a", "size": 45, "opacity": 1}}
                  ]
                },
                {
                  "width": 57, "height": 390, "data": {"name": "bottom"},
                  "transform": [{"filter": "datum.frac === '<2'"}],
                  "title": {"text": "<2µm", "anchor": "start", "frame": "group", "dx": -23, "offset": 4, "fontSize": 15},
                  "encoding": {
                    "x": {"field": "value", "type": "quantitative", "scale": {"domain": [0, 55], "range": [0, 57], "nice": false, "zero": false},
                      "axis": {"values": [0, 20, 40], "tickSize": 9, "labelPadding": 11, "labelFontSize": 11, "title": "%", "titleFontSize": 13, "titlePadding": 3}},
                    "y": {"field": "depth", "type": "quantitative", "scale": {"domain": [0, 120], "reverse": true, "nice": false},
                      "axis": {"values": [0, 10, 20, 30, 40, 50, 60, 70, 80, 90, 100, 110, 120], "labels": false, "tickSize": {"condition": {"test": "datum.value % 20 === 0", "value": 12}, "value": 7}, "title": null}}
                  },
                  "layer": [
                    {"mark": {"type": "line"}, "encoding": {"order": {"field": "depth", "type": "quantitative"},
                      "color": {"field": "series", "type": "nominal", "scale": {"domain": ["A", "B", "C"], "range": ["#1a1a1a", "#e8161b", "#5fae5f"]}},
                      "strokeWidth": {"field": "series", "type": "nominal", "scale": {"domain": ["A", "B", "C"], "range": [1.6, 1.3, 1.1]}, "legend": null}}},
                    {"transform": [{"filter": "datum.series === 'B'"}], "mark": {"type": "point", "shape": "M-1,0H1M0,-1V1", "filled": false, "color": "#e8161b", "strokeWidth": 1.2, "size": 64, "opacity": 1}},
                    {"transform": [{"filter": "datum.series === 'A'"}], "mark": {"type": "point", "shape": "circle", "filled": true, "color": "#3a3a3a", "size": 45, "opacity": 1}}
                  ]
                }
              ]
            }
          ]
        }
      ]
    }
  ],
  "spacing": 8,
  "config": {
    "view": {"stroke": null},
    "font": "Liberation Sans",
    "axis": {"domainColor": "#111", "tickColor": "#111", "labelColor": "#111", "titleColor": "#111", "grid": false, "labelFont": "Liberation Sans", "titleFont": "Liberation Sans", "labelFontWeight": "bold", "titleFontWeight": "bold", "domainWidth": 1.3, "tickWidth": 1.2, "labelOverlap": false, "labelFlush": false},
    "title": {"font": "Liberation Sans", "fontWeight": "bold", "color": "#111"}
  }
}
